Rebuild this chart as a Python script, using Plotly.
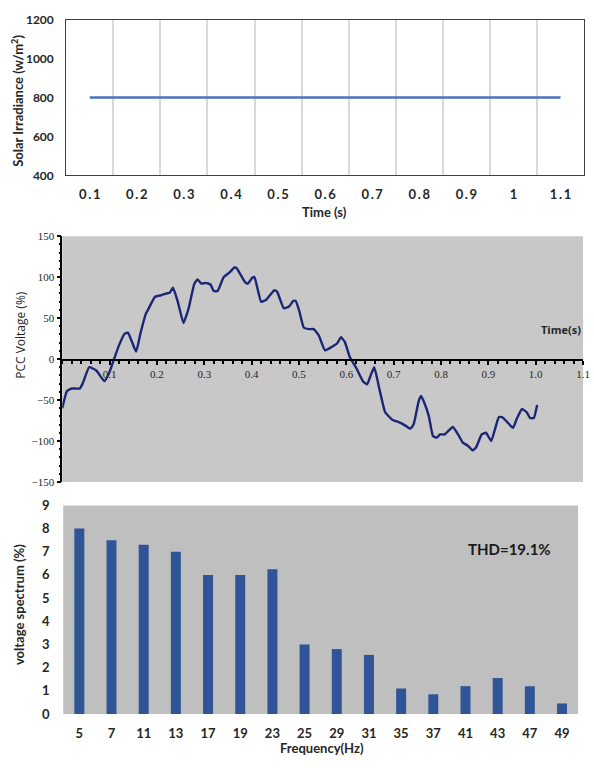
import plotly.graph_objects as go

W, H = 594, 768

# ---- Panel 1: solar irradiance ----
irr_time = [0.1, 0.2, 0.3, 0.4, 0.5, 0.6, 0.7, 0.8, 0.9, 1.0, 1.1]
irr_value = [800] * 11
irr_ticktext = ["0\u2009.\u20091", "0\u2009.\u20092", "0\u2009.\u20093", "0\u2009.\u20094",
                "0\u2009.\u20095", "0\u2009.\u20096", "0\u2009.\u20097", "0\u2009.\u20098",
                "0\u2009.\u20099", "1", "1\u2009.\u20091"]

# ---- Panel 2: PCC voltage waveform ----
pcc_time = [0.000, 0.010, 0.020, 0.037, 0.043, 0.057, 0.072, 0.089, 0.099, 0.110,
            0.120, 0.132, 0.139, 0.156, 0.165, 0.177, 0.181, 0.196, 0.210, 0.220,
            0.227, 0.234, 0.244, 0.256, 0.267, 0.279, 0.286, 0.294, 0.303, 0.313,
            0.320, 0.328, 0.341, 0.354, 0.363, 0.368, 0.386, 0.392, 0.401, 0.406,
            0.420, 0.430, 0.448, 0.454, 0.468, 0.479, 0.488, 0.493, 0.500, 0.510,
            0.521, 0.531, 0.542, 0.555, 0.569, 0.580, 0.589, 0.597, 0.607, 0.621,
            0.635, 0.644, 0.652, 0.659, 0.670, 0.682, 0.697, 0.711, 0.724, 0.735,
            0.742, 0.753, 0.758, 0.763, 0.774, 0.783, 0.791, 0.798, 0.808, 0.815,
            0.825, 0.836, 0.846, 0.857, 0.867, 0.874, 0.886, 0.895, 0.906, 0.922,
            0.929, 0.940, 0.952, 0.960, 0.971, 0.981, 0.988, 0.996, 1.003]
pcc_voltage = [-60, -39, -36, -36, -30, -10, -14, -27, -17, 1,
               17, 31, 32, 9, 31, 56, 60, 76, 78, 80,
               81, 87, 70, 44, 62, 92, 97, 92, 93, 91,
               83, 83, 100, 106, 111.5, 111, 94, 92, 99, 100,
               70, 72, 84, 82, 62, 64, 71, 71, 60, 38.5,
               36.5, 36.5, 28.6, 10.7, 14.7, 18.7, 26.6, 20.6, 2.8, -11,
               -27, -31, -19, -10, -37, -65, -74, -77, -81, -85,
               -80, -51, -45, -51, -69, -94, -96, -92, -92, -88,
               -83, -92, -102, -106, -111.5, -108, -92, -90, -100, -71,
               -71, -77, -84, -73, -61, -65, -72, -72, -56]
pcc_ticks = [0.1, 0.2, 0.3, 0.4, 0.5, 0.6, 0.7, 0.8, 0.9, 1.0, 1.1]
pcc_ticktext = ["0.1", "0.2", "0.3", "0.4", "0.5", "0.6", "0.7", "0.8", "0.9", "1.0", "1.1"]

# ---- Panel 3: harmonic voltage spectrum ----
harmonic_order = ["5", "7", "11", "13", "17", "19", "23", "25", "29", "31",
                  "35", "37", "41", "43", "47", "49"]
spectrum_pct = [8.0, 7.5, 7.3, 7.0, 6.0, 6.0, 6.25, 3.0, 2.8, 2.55,
                1.1, 0.85, 1.2, 1.55, 1.2, 0.45]
thd_text = "THD=19.1%"


def fx(px):
    return px / W


def fy(py):
    return 1 - py / H


LATO = "Lato"
SERIF = "Liberation Serif"
SANS = "Open Sans"
TXT = "#262626"


def label(text, px, py, font, angle=0):
    return dict(text=text, x=fx(px), y=fy(py), xref="paper", yref="paper",
                xanchor="center", yanchor="middle", textangle=angle,
                showarrow=False, font=font)


fig = go.Figure()

fig.add_trace(go.Scatter(x=irr_time, y=irr_value, mode="lines",
                         line=dict(color="#4472c4", width=2.5),
                         xaxis="x", yaxis="y", showlegend=False, hoverinfo="skip"))

fig.add_trace(go.Scatter(x=pcc_time, y=pcc_voltage, mode="lines",
                         line=dict(color="#1c2675", width=2.4, shape="spline", smoothing=0.4),
                         xaxis="x2", yaxis="y2", showlegend=False, hoverinfo="skip"))

fig.add_trace(go.Bar(x=harmonic_order, y=spectrum_pct, marker=dict(color="#2f5597", line_width=0),
                     xaxis="x3", yaxis="y3", showlegend=False, hoverinfo="skip"))

mid_zero = fy(359)

bold13 = dict(family=LATO, size=13, color=TXT, weight="bold")

fig.update_layout(
    width=W, height=H,
    margin=dict(l=0, r=0, t=0, b=0),
    paper_bgcolor="white", plot_bgcolor="white",
    bargap=0.69,
    # top panel
    xaxis=dict(domain=[fx(67), fx(591)], anchor="y", range=[0.05, 1.15],
               tickmode="array", tickvals=irr_time, ticktext=irr_ticktext,
               showgrid=False, zeroline=False,
               showline=True, mirror=True, linecolor="#404040", linewidth=1,
               ticks="outside", ticklen=7, tickcolor="rgba(0,0,0,0)",
               tickfont=bold13,
               minor=dict(tickmode="array",
                          tickvals=[0.15, 0.25, 0.35, 0.45, 0.55, 0.65, 0.75, 0.85, 0.95, 1.05],
                          showgrid=True, gridcolor="#d9d9d9", gridwidth=1.5, ticks="")),
    yaxis=dict(domain=[fy(171), fy(12)], anchor="x", range=[400, 1200], dtick=200,
               showgrid=False, zeroline=False,
               showline=True, mirror=True, linecolor="#404040", linewidth=1,
               ticks="outside", ticklen=9, tickcolor="rgba(0,0,0,0)",
               tickfont=dict(family=LATO, size=12, color=TXT, weight="bold")),
    # middle panel
    xaxis2=dict(domain=[fx(63), fx(590)], anchor="free", position=mid_zero, range=[0, 1.1],
                tickmode="array", tickvals=pcc_ticks, ticktext=pcc_ticktext,
                ticklabeloverflow="allow",
                showgrid=False, zeroline=False,
                showline=True, linecolor="black", linewidth=2,
                ticks="outside", ticklen=4, tickwidth=1.5, tickcolor="black",
                tickfont=dict(family=SERIF, size=11, color=TXT),
                minor=dict(dtick=0.02, tick0=0, ticks="outside", ticklen=3, tickcolor="black",
                           showgrid=False)),
    xaxis4=dict(domain=[fx(63), fx(590)], anchor="free", position=mid_zero, range=[0, 1.1],
                overlaying="x2", tickmode="array", tickvals=pcc_ticks,
                showticklabels=False, showgrid=False, zeroline=False, showline=False,
                ticks="inside", ticklen=4, tickwidth=1.5, tickcolor="black",
                minor=dict(dtick=0.02, tick0=0, ticks="inside", ticklen=3, tickcolor="black",
                           showgrid=False)),
    yaxis2=dict(domain=[fy(484), fy(233)], anchor="x2", range=[-150, 150], dtick=50,
                showgrid=False, zeroline=False,
                showline=True, linecolor="black", linewidth=1.5,
                ticks="outside", ticklen=4, tickwidth=1.5, tickcolor="black",
                tickfont=dict(family=SERIF, size=11, color=TXT),
                minor=dict(dtick=10, ticks="outside", ticklen=2, tickcolor="black")),
    # bottom panel
    xaxis3=dict(domain=[fx(64), fx(585)], anchor="y3", type="category",
                showgrid=False, zeroline=False, showline=False,
                ticks="outside", ticklen=7, tickcolor="rgba(0,0,0,0)",
                tickfont=bold13),
    yaxis3=dict(domain=[fy(721), fy(508)], anchor="x3", range=[0, 9], dtick=1,
                showgrid=False, zeroline=False, showline=False,
                ticks="outside", ticklen=10, tickcolor="rgba(0,0,0,0)",
                tickfont=bold13),
    shapes=[
        dict(type="rect", xref="x2 domain", yref="y2 domain", x0=0, x1=1, y0=0, y1=1,
             fillcolor="#c8c8c8", line_width=0, layer="below"),
        dict(type="rect", xref="x3 domain", yref="y3 domain", x0=0, x1=1, y0=0, y1=1,
             fillcolor="#bfbfbf", line_width=0, layer="below"),
    ],
    annotations=[
        label("Solar Irradiance (w/m<sup>2</sup>)", 17, 95, bold13, -90),
        label("Time (s)", 328, 208, bold13),
        label("PCC Voltage (%)", 20, 334, dict(family=SANS, size=12, color=TXT), -90),
        label("Time(s)", 568, 328, dict(family=SANS, size=11, color=TXT, weight="bold")),
        label("voltage spectrum (%)", 20, 609, bold13, -90),
        label("Frequency(Hz)", 326, 756, bold13),
        label(thd_text, 516, 552, dict(family=LATO, size=15, color="#1a1a1a", weight="bold")),
    ],
)

# Let the fixed-size figure sit flush in the page so nothing overflows.
page_reset = "document.body.style.margin='0';document.body.style.overflow='hidden';"
fig.write_html("out.html", post_script=page_reset)
